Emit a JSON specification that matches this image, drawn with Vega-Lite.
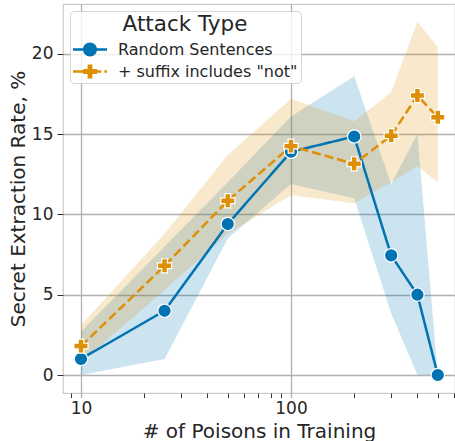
{
  "$schema": "https://vega.github.io/schema/vega-lite/v6.json",
  "width": 392,
  "height": 389,
  "autosize": {"type": "none"},
  "padding": {"left": 63, "top": 4, "right": 0, "bottom": 48},
  "config": {
    "font": "DejaVu Sans",
    "view": {"stroke": "#cccccc", "strokeWidth": 1.2},
    "axis": {
      "labelColor": "#262626",
      "titleColor": "#262626",
      "titleFontWeight": "normal",
      "gridColor": "#b0b0b0",
      "gridWidth": 1.3,
      "domain": false,
      "labelFont": "DejaVu Sans",
      "titleFont": "DejaVu Sans"
    },
    "legend": {"labelFont": "DejaVu Sans", "titleFont": "DejaVu Sans"}
  },
  "data": {
    "values": [
      {"type": "Random Sentences", "n": 10, "rate": 1.0, "lo": 0.0, "hi": 2.7},
      {"type": "Random Sentences", "n": 25, "rate": 4.0, "lo": 1.0, "hi": 8.0},
      {"type": "Random Sentences", "n": 50, "rate": 9.4, "lo": 8.5, "hi": 12.0},
      {"type": "Random Sentences", "n": 100, "rate": 13.9, "lo": 11.9, "hi": 16.1},
      {"type": "Random Sentences", "n": 200, "rate": 14.85, "lo": 11.0, "hi": 18.6},
      {"type": "Random Sentences", "n": 300, "rate": 7.45, "lo": 3.85, "hi": 11.9},
      {"type": "Random Sentences", "n": 400, "rate": 5.0, "lo": 0.0, "hi": 15.0},
      {"type": "Random Sentences", "n": 500, "rate": 0.0, "lo": 0.0, "hi": 0.0},
      {"type": "+ suffix includes \"not\"", "n": 10, "rate": 1.8, "lo": 0.8, "hi": 3.1},
      {"type": "+ suffix includes \"not\"", "n": 25, "rate": 6.8, "lo": 5.3, "hi": 8.8},
      {"type": "+ suffix includes \"not\"", "n": 50, "rate": 10.85, "lo": 8.8, "hi": 13.7},
      {"type": "+ suffix includes \"not\"", "n": 100, "rate": 14.25, "lo": 11.2, "hi": 17.2},
      {"type": "+ suffix includes \"not\"", "n": 200, "rate": 13.15, "lo": 10.7, "hi": 15.8},
      {"type": "+ suffix includes \"not\"", "n": 300, "rate": 14.9, "lo": 12.0, "hi": 17.6},
      {"type": "+ suffix includes \"not\"", "n": 400, "rate": 17.4, "lo": 13.0, "hi": 22.0},
      {"type": "+ suffix includes \"not\"", "n": 500, "rate": 16.05, "lo": 12.0, "hi": 20.4}
    ]
  },
  "encoding": {
    "x": {
      "field": "n",
      "type": "quantitative",
      "scale": {"type": "log", "domain": [8.21, 604], "nice": false},
      "axis": {
        "title": "# of Poisons in Training",
        "titleFontSize": 20,
        "titlePadding": 5,
        "labelFontSize": 17,
        "labelPadding": 3,
        "labelOverlap": false,
        "labelFlush": false,
        "values": [9, 10, 20, 30, 40, 50, 60, 70, 80, 90, 100, 200, 300, 400, 500, 600],
        "labelExpr": "(datum.value == 10 || datum.value == 100) ? datum.label : ''",
        "gridOpacity": {"condition": {"test": "datum.value == 10 || datum.value == 100", "value": 1}, "value": 0},
        "tickColor": {"condition": {"test": "datum.value == 10 || datum.value == 100", "value": "#b0b0b0"}, "value": "#333333"},
        "tickWidth": {"condition": {"test": "datum.value == 10 || datum.value == 100", "value": 1.3}, "value": 1},
        "tickSize": 4.5
      }
    },
    "color": {
      "field": "type",
      "type": "nominal",
      "scale": {"domain": ["Random Sentences", "+ suffix includes \"not\""], "range": ["#0173b2", "#de8f05"]},
      "legend": {
        "orient": "none",
        "legendX": 7,
        "legendY": 7,
        "title": "Attack Type",
        "titleFontSize": 21.5,
        "titleFontWeight": "normal",
        "titleColor": "#262626",
        "titleAnchor": "middle",
        "titlePadding": 6,
        "labelFontSize": 16,
        "labelColor": "#262626",
        "labelLimit": 0,
        "labelOffset": 20,
        "symbolOffset": 9,
        "symbolSize": 256,
        "rowPadding": 6,
        "padding": 3,
        "fillColor": "rgba(255,255,255,0.8)",
        "strokeColor": "#d6d6d6",
        "cornerRadius": 4,
        "encode": {
          "symbols": {
            "update": {
              "shape": {"signal": "datum.value === 'Random Sentences' ? 'M-2.125,-0.16H-0.8V0.16H-2.125Z M0.8,-0.16H2.125V0.16H0.8Z M0.875,0A0.875,0.875 0 1 1 -0.875,0A0.875,0.875 0 1 1 0.875,0Z' : 'M-2.125,-0.16H-0.87V0.16H-2.125Z M0.87,-0.16H1.4V0.16H0.87Z M1.8,-0.16H2.125V0.16H1.8Z M-0.875,-0.3H-0.3V-0.875H0.3V-0.3H0.875V0.3H0.3V0.875H-0.3V0.3H-0.875Z'"},
              "fill": {"signal": "scale('color', datum.value)"},
              "stroke": {"value": "transparent"},
              "strokeWidth": {"value": 0},
              "opacity": {"value": 1},
              "fillOpacity": {"value": 1}
            }
          }
        }
      }
    }
  },
  "layer": [
    {
      "mark": {"type": "area", "fillOpacity": 0.2},
      "encoding": {
        "y": {
          "field": "lo",
          "type": "quantitative",
          "scale": {"domain": [-1.12, 23.1], "nice": false, "zero": false},
          "axis": {
            "title": "Secret Extraction Rate, %",
            "titleFontSize": 20,
            "titlePadding": 3,
            "labelFontSize": 17,
            "labelPadding": 4,
            "values": [0, 5, 10, 15, 20],
            "tickSize": 6,
            "tickColor": "#333333"
          }
        },
        "y2": {"field": "hi"}
      }
    },
    {
      "mark": {"type": "line", "strokeWidth": 2.5},
      "encoding": {
        "y": {"field": "rate", "type": "quantitative"},
        "strokeDash": {
          "field": "type",
          "type": "nominal",
          "scale": {"domain": ["Random Sentences", "+ suffix includes \"not\""], "range": [[1, 0], [9, 4]]},
          "legend": null
        }
      }
    },
    {
      "transform": [{"filter": "datum.type === 'Random Sentences'"}],
      "mark": {"type": "point", "shape": "circle", "filled": true, "opacity": 1, "stroke": "white", "strokeWidth": 1.2, "size": 180},
      "encoding": {
        "y": {"field": "rate", "type": "quantitative"}
      }
    },
    {
      "transform": [{"filter": "datum.type !== 'Random Sentences'"}],
      "mark": {"type": "point", "shape": "cross", "filled": true, "opacity": 1, "stroke": "white", "strokeWidth": 1.2, "size": 200},
      "encoding": {
        "y": {"field": "rate", "type": "quantitative"}
      }
    }
  ]
}
